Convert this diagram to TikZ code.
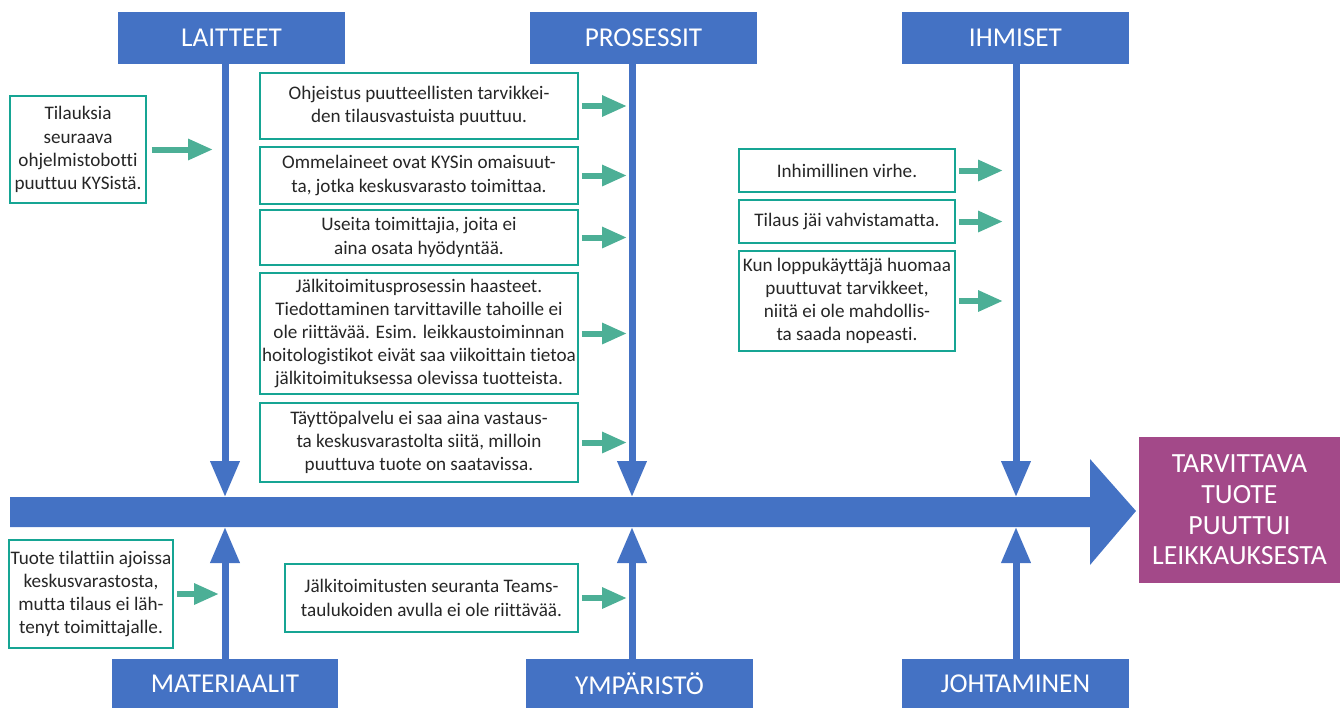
\documentclass[tikz,border=0pt]{standalone}
\usepackage{fontspec}
\setmainfont[Ligatures=NoCommon]{Carlito}
\usetikzlibrary{arrows.meta}
\definecolor{boneblue}{HTML}{4472C4}
\definecolor{causeteal}{HTML}{16A594}
\definecolor{arrowteal}{HTML}{4CAF96}
\definecolor{effectpurple}{HTML}{A34989}
\begin{document}
\begin{tikzpicture}[x=0.02cm,y=-0.02cm,every node/.style={inner sep=1pt, outer sep=0pt, align=center},
  category/.style={fill=boneblue, text=white, minimum width=4.54cm, minimum height=1.04cm, font=\fontsize{15.5}{18}\selectfont},
  cause/.style={draw=causeteal, line width=0.045cm, fill=white, text=black!85, font=\fontsize{10.9}{13.2}\selectfont},
  bone/.style={draw=boneblue, line width=0.14cm, -{Triangle[length=0.72cm,width=0.56cm]}},
  link/.style={draw=arrowteal, line width=0.12cm, -{Triangle[length=0.5cm,width=0.4cm]}, shorten <=0.08cm, shorten >=0.1cm}]
\useasboundingbox (0,0) rectangle (1340,708);
\node[category] (laitteet) at (231.5,37.5) {LAITTEET};
\node[category] (prosessit) at (643.5,37.5) {PROSESSIT};
\node[category] (ihmiset) at (1015.5,37.5) {IHMISET};
\node[category, minimum height=0.98cm] (materiaalit) at (225,683.5) {MATERIAALIT};
\node[category, minimum height=0.98cm] (ymparisto) at (639.5,683.5) {YMPÄRISTÖ};
\node[category, minimum height=0.98cm] (johtaminen) at (1015.5,683.5) {JOHTAMINEN};
\node[fill=effectpurple, text=white, minimum width=4.02cm, minimum height=2.92cm, font=\fontsize{15.8}{17.5}\selectfont] (effect) at (1239.5,510) {TARVITTAVA\\TUOTE\\PUUTTUI\\LEIKKAUKSESTA};
\coordinate (tail) at (10,512);
\coordinate (sptop) at (0,497);
\coordinate (spbot) at (0,527);
\coordinate (lx) at (225,0);
\coordinate (px) at (632,0);
\coordinate (ix) at (1016,0);
\fill[boneblue] (tail) ++(0,-15) -- (1090,497) -- (1090,459) -- (1136,511) -- (1090,565) -- (1090,527) -- (10,527) -- cycle;
\draw[bone] (laitteet.south -| lx) -- (sptop -| lx);
\draw[bone] (prosessit.south -| px) -- (sptop -| px);
\draw[bone] (ihmiset.south -| ix) -- (sptop -| ix);
\draw[bone] (materiaalit.north -| lx) -- (spbot -| lx);
\draw[bone] (ymparisto.north -| px) -- (spbot -| px);
\draw[bone] (johtaminen.north -| ix) -- (spbot -| ix);
\node[cause, minimum width=2.72cm, minimum height=2.14cm] (botti) at (78,149.5) {Tilauksia\\seuraava\\ohjelmistobotti\\puuttuu KYSistä.};
\node[cause, minimum width=6.36cm, minimum height=1.32cm] (ohjeistus) at (419,106) {Ohjeistus puutteellisten tarvikkei-\\den tilausvastuista puuttuu.};
\node[cause, minimum width=6.36cm, minimum height=1.14cm] (ommel) at (419,175.5) {Ommelaineet ovat KYSin omaisuut-\\ta, jotka keskusvarasto toimittaa.};
\node[cause, minimum width=6.36cm, minimum height=1.10cm] (toimittajat) at (419,237.5) {Useita toimittajia, joita ei\\aina osata hyödyntää.};
\node[cause, minimum width=6.36cm, minimum height=2.42cm] (jalki) at (419,333.5) {Jälkitoimitusprosessin haasteet.\\Tiedottaminen tarvittaville tahoille ei\\ole riittävää. Esim. leikkaustoiminnan\\hoitologistikot eivät saa viikoittain tietoa\\jälkitoimituksessa olevissa tuotteista.};
\node[cause, minimum width=6.36cm, minimum height=1.58cm] (taytto) at (419,442.5) {Täyttöpalvelu ei saa aina vastaus-\\ta keskusvarastolta siitä, milloin\\puuttuva tuote on saatavissa.};
\node[cause, minimum width=4.32cm, minimum height=0.86cm] (virhe) at (847,170.5) {Inhimillinen virhe.};
\node[cause, minimum width=4.32cm, minimum height=0.86cm] (vahvistus) at (847,221.5) {Tilaus jäi vahvistamatta.};
\node[cause, minimum width=4.32cm, minimum height=2.0cm] (loppukayttaja) at (847,301) {Kun loppukäyttäjä huomaa\\puuttuvat tarvikkeet,\\niitä ei ole mahdollis-\\ta saada nopeasti.};
\node[cause, minimum width=3.24cm, minimum height=2.16cm] (tilaus) at (91,594) {Tuote tilattiin ajoissa\\keskusvarastosta,\\mutta tilaus ei läh-\\tenyt toimittajalle.};
\node[cause, minimum width=5.86cm, minimum height=1.36cm] (seuranta) at (431.5,598) {Jälkitoimitusten seuranta Teams-\\taulukoiden avulla ei ole riittävää.};
\draw[link, shorten <=0.12cm, shorten >=0.24cm] (botti.east) -- (botti.east -| lx);
\draw[link] (ohjeistus.east) -- (ohjeistus.east -| px);
\draw[link] (ommel.east) -- (ommel.east -| px);
\draw[link] (toimittajat.east) -- (toimittajat.east -| px);
\draw[link] (jalki.east) -- (jalki.east -| px);
\draw[link] (taytto.east) -- (taytto.east -| px);
\draw[link, shorten >=0.26cm] (virhe.east) -- (virhe.east -| ix);
\draw[link, shorten >=0.26cm] (vahvistus.east) -- (vahvistus.east -| ix);
\draw[link, shorten >=0.26cm] (loppukayttaja.east) -- (loppukayttaja.east -| ix);
\draw[link, shorten >=0.12cm] (tilaus.east) -- (tilaus.east -| lx);
\draw[link] (seuranta.east) -- (seuranta.east -| px);
\end{tikzpicture}
\end{document}
